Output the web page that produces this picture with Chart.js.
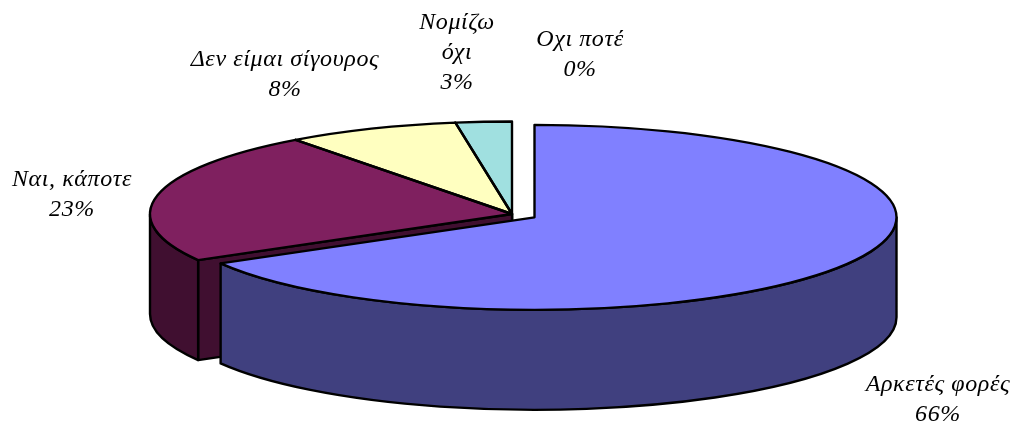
<!DOCTYPE html>
<html>
<head>
<meta charset="utf-8">
<style>html,body{margin:0;padding:0;background:#fff}canvas{display:block}</style>
<script src="https://cdn.jsdelivr.net/npm/chart.js@4/dist/chart.umd.min.js"></script>
</head>
<body>
<canvas id="c" width="1014" height="423"></canvas>
<script>
const categories = ['Αρκετές φορές', 'Ναι, κάποτε', 'Δεν είμαι σίγουρος', 'Νομίζω\nόχι', 'Οχι ποτέ'];
const values = [66.7, 23.1, 7.7, 2.5, 0];
const percentLabels = ['66%', '23%', '8%', '3%', '0%'];
const topColors = ['#8080FF', '#7F205F', '#FFFFC0', '#A0E0E0', '#D0D0D0'];
const wallColors = ['#40407F', '#400F30', '#7F7F60', '#507070', '#686868'];
const explode = [26, 0, 0, 0, 0];
const labelCentres = [[938, 385], [72, 180], [285, 60], [457, 23], [580, 40]];

const RX = 362, SQUASH = 92.5 / 362, DEPTH = 100, PIE_X = 512, PIE_Y = 214, LINE = 30;

function mapper(chart) {
  const a = chart.chartArea;
  const mx = (a.left + a.right) / 2, my = (a.top + a.bottom) / 2;
  return { mx, my, x: v => v - mx + PIE_X, y: v => PIE_Y + (v - my) * SQUASH };
}
function slices(chart) {
  return chart.getDatasetMeta(0).data.filter(e => e.endAngle - e.startAngle > 1e-6);
}
const pie3d = {
  id: 'pie3d',
  afterDatasetsUpdate(chart) {
    chart.getDatasetMeta(0).data.forEach((e, i) => {
      const mid = (e.startAngle + e.endAngle) / 2;
      e.x += Math.cos(mid) * explode[i];
      e.y += Math.sin(mid) * explode[i];
    });
  },
  beforeDatasetsDraw(chart) {
    const ctx = chart.ctx, m = mapper(chart);
    ctx.save();
    ctx.lineWidth = 2.4;
    ctx.lineJoin = 'round';
    ctx.strokeStyle = '#000';
    const arcs = slices(chart);
    for (let n = arcs.length - 1; n >= 0; n--) {
      const e = arcs[n], idx = chart.getDatasetMeta(0).data.indexOf(e);
      const cx = m.x(e.x), cy = m.y(e.y), rx = e.outerRadius, ry = rx * SQUASH;
      ctx.fillStyle = wallColors[idx];
      const face = ang => {
        const px = cx + Math.cos(ang) * rx, py = cy + Math.sin(ang) * ry;
        ctx.beginPath();
        ctx.moveTo(cx, cy); ctx.lineTo(px, py);
        ctx.lineTo(px, py + DEPTH); ctx.lineTo(cx, cy + DEPTH);
        ctx.closePath(); ctx.fill(); ctx.stroke();
      };
      if (Math.cos(e.startAngle) < -1e-6) face(e.startAngle);
      if (Math.cos(e.endAngle) > 1e-6) face(e.endAngle);
      const a0 = Math.max(e.startAngle, 0), a1 = Math.min(e.endAngle, Math.PI);
      if (a1 > a0) {
        ctx.beginPath();
        ctx.ellipse(cx, cy, rx, ry, 0, a0, a1);
        ctx.ellipse(cx, cy + DEPTH, rx, ry, 0, a1, a0, true);
        ctx.closePath(); ctx.fill(); ctx.stroke();
      }
    }
    ctx.restore();
    ctx.save();
    ctx.translate(PIE_X, PIE_Y);
    ctx.scale(1, SQUASH);
    ctx.translate(-m.mx, -m.my);
  },
  afterDatasetsDraw(chart) {
    const ctx = chart.ctx, m = mapper(chart);
    ctx.restore();
    ctx.save();
    ctx.lineWidth = 2.4;
    ctx.lineJoin = 'round';
    ctx.strokeStyle = '#000';
    slices(chart).forEach(e => {
      const cx = m.x(e.x), cy = m.y(e.y), rx = e.outerRadius, ry = rx * SQUASH;
      ctx.beginPath();
      ctx.moveTo(cx, cy);
      ctx.ellipse(cx, cy, rx, ry, 0, e.startAngle, e.endAngle);
      ctx.closePath();
      ctx.stroke();
    });
    ctx.fillStyle = '#000';
    ctx.font = 'italic 24px "Liberation Serif"';
    ctx.textAlign = 'center';
    ctx.textBaseline = 'middle';
    if ('letterSpacing' in ctx) ctx.letterSpacing = '0.6px';
    categories.forEach((name, i) => {
      const lines = name.split('\n').concat(percentLabels[i]);
      lines.forEach((t, j) => ctx.fillText(t, labelCentres[i][0], labelCentres[i][1] + j * LINE));
    });
    ctx.restore();
  }
};

new Chart(document.getElementById('c'), {
  type: 'pie',
  data: {
    labels: categories,
    datasets: [{
      data: values,
      backgroundColor: topColors,
      borderWidth: 0,
      radius: RX,
      clip: false
    }]
  },
  options: {
    responsive: false,
    animation: false,
    layout: { padding: 0 },
    plugins: { legend: { display: false }, tooltip: { enabled: false } }
  },
  plugins: [pie3d]
});
</script>
</body>
</html>
